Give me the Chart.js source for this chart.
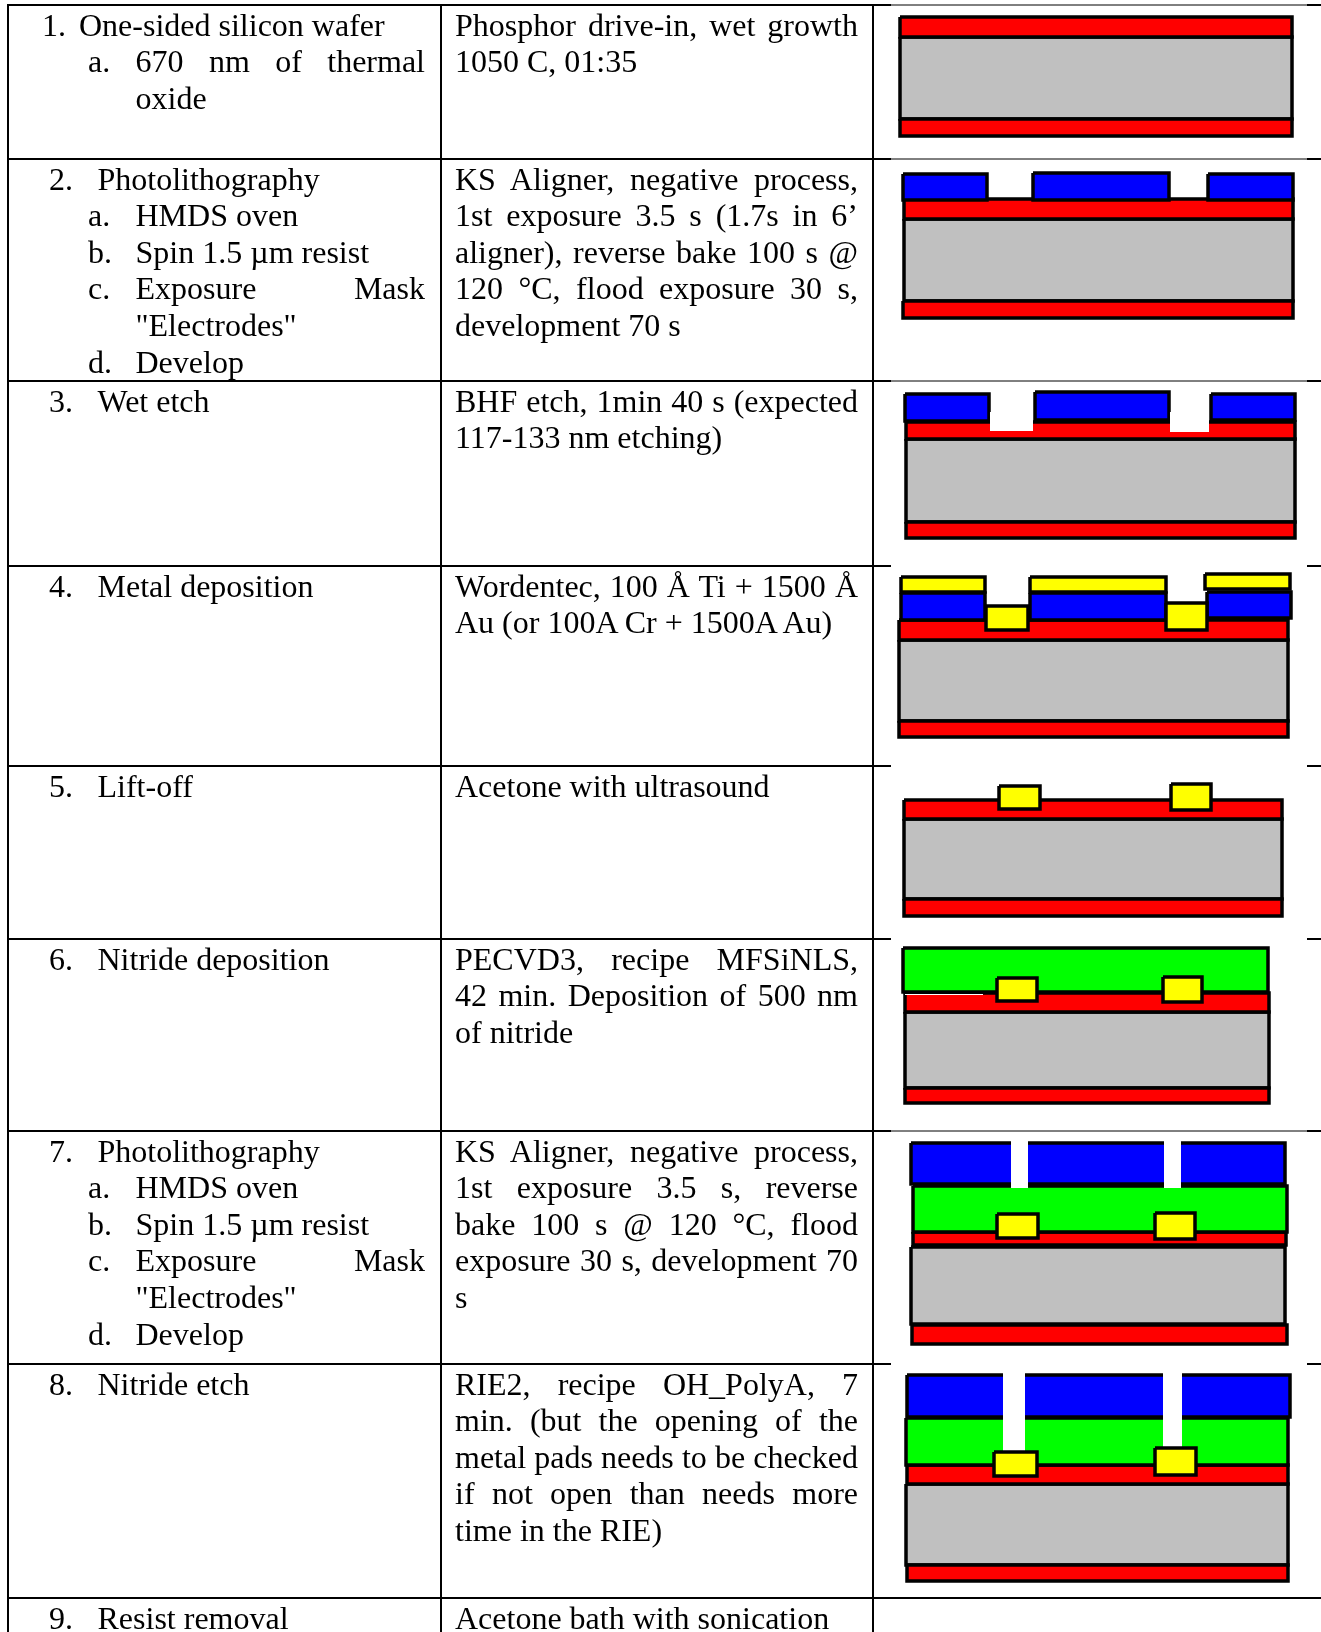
<!DOCTYPE html>
<html>
<head>
<meta charset="utf-8">
<title>Process flow</title>
<script src="https://cdn.jsdelivr.net/npm/chart.js@4"></script>
<style>
    html, body { margin: 0; padding: 0; background: #fff; }
    #page { position: relative; width: 1321px; height: 1632px; overflow: hidden; }
    #flow { position: absolute; left: 0; top: 0; }
    .line {
        position: absolute;
        height: 36px;
        line-height: 36px;
        font-family: "Liberation Serif", serif;
        font-size: 32px;
        color: #000;
        white-space: normal;
    }
    .just { text-align: justify; text-align-last: justify; }
</style>
</head>
<body>
<div id="page">
    <canvas id="flow" width="1321" height="1632"></canvas>
</div>
<script>
// =============================================
// DATA
// =============================================

const stepTitles = [
    'One-sided silicon wafer', 'Photolithography', 'Wet etch', 'Metal deposition', 'Lift-off',
    'Nitride deposition', 'Photolithography', 'Nitride etch', 'Resist removal'
];

const stepDetails = [
    [['a.', '670 nm of thermal'], ['', 'oxide']],
    [['a.', 'HMDS oven'], ['b.', 'Spin 1.5 µm resist'], ['c.', 'Exposure Mask'], ['', '"Electrodes"'], ['d.', 'Develop']],
    [], [], [], [],
    [['a.', 'HMDS oven'], ['b.', 'Spin 1.5 µm resist'], ['c.', 'Exposure Mask'], ['', '"Electrodes"'], ['d.', 'Develop']],
    [], []
];

const justifiedDetails = ['670 nm of thermal', 'Exposure Mask'];

const recipeLines = [
    ['Phosphor drive-in, wet growth', '1050 C, 01:35'],
    ['KS Aligner, negative process,', '1st exposure 3.5 s (1.7s in 6’', 'aligner), reverse bake 100 s @', '120 °C, flood exposure 30 s,', 'development 70 s'],
    ['BHF etch, 1min 40 s (expected', '117-133 nm etching)'],
    ['Wordentec, 100 Å Ti + 1500 Å', 'Au (or 100A Cr + 1500A Au)'],
    ['Acetone with ultrasound'],
    ['PECVD3, recipe MFSiNLS,', '42 min. Deposition of 500 nm', 'of nitride'],
    ['KS Aligner, negative process,', '1st exposure 3.5 s, reverse', 'bake 100 s @ 120 °C, flood', 'exposure 30 s, development 70', 's'],
    ['RIE2, recipe OH_PolyA, 7', 'min. (but the opening of the', 'metal pads needs to be checked', 'if not open than needs more', 'time in the RIE)'],
    ['Acetone bath with sonication']
];

// table rules
const rowRules = [5, 159, 381, 566, 766, 939, 1131, 1364, 1598];
const columnRules = [8, 441, 873];
const thinRowRules = [5, 159, 381, 1131];

// layers as [left, right, top, bottom]
const siliconLayers = [
    [900, 1292, 37, 119], [904, 1293, 219, 301], [906, 1295, 439, 522], [899, 1288, 640, 721],
    [904, 1282, 819, 899], [905, 1269, 1012, 1088], [911, 1285, 1247, 1324], [906, 1288, 1484, 1565]
];
const oxideLayers = [
    [900, 1292, 17, 37], [900, 1292, 119, 136],
    [904, 1293, 199, 219], [903, 1293, 301, 318],
    [906, 1295, 422, 439], [906, 1295, 522, 538],
    [899, 1288, 620, 640], [899, 1288, 721, 737],
    [904, 1282, 800, 819], [904, 1282, 899, 916],
    [905, 1269, 993, 1012], [905, 1269, 1088, 1103],
    [913, 1286, 1232, 1245], [912, 1287, 1325, 1344],
    [907, 1288, 1465, 1484], [907, 1288, 1565, 1581]
];
const nitrideLayers = [
    [903, 1268, 948, 992], [913, 1287, 1186, 1232], [906, 1288, 1418, 1465]
];
const resistLayers = [
    [903, 987, 174, 200], [1033, 1169, 173, 200], [1208, 1293, 174, 200],
    [905, 989, 394, 421], [1035, 1169, 392, 420], [1211, 1295, 394, 420],
    [901, 985, 593, 620], [1030, 1166, 593, 620], [1207, 1291, 592, 618],
    [911, 1285, 1143, 1184], [907, 1290, 1375, 1417]
];
const openingLayers = [
    [990, 1033, 412, 431], [1170, 1209, 412, 432],
    [905, 983, 994, 995],
    [1011, 1028, 1137, 1188], [1164, 1181, 1137, 1188],
    [1003, 1025, 1368, 1452], [1163, 1182, 1368, 1447]
];
const metalLayers = [
    [901, 985, 577, 592], [1030, 1166, 577, 592], [1205, 1290, 574, 589],
    [986, 1028, 606, 630], [1166, 1207, 603, 630],
    [999, 1040, 786, 809], [1171, 1211, 784, 810],
    [997, 1037, 978, 1001], [1163, 1202, 977, 1002],
    [997, 1038, 1214, 1238], [1155, 1195, 1213, 1239],
    [994, 1037, 1452, 1476], [1155, 1196, 1448, 1475]
];

// =============================================
// CHART
// =============================================

const pageWidth = 1321;
const pageHeight = 1632;

function rectDataset(layer, fillColor, strokeColor, strokeWidth) {
    const [left, right, top, bottom] = layer;
    return {
        data: [
            { x: left, y: top }, { x: right, y: top }, { x: right, y: bottom },
            { x: left, y: bottom }, { x: left, y: top }
        ],
        showLine: true,
        fill: 'shape',
        backgroundColor: fillColor,
        borderColor: strokeColor,
        borderWidth: strokeWidth,
        borderJoinStyle: 'miter',
        pointRadius: 0,
        tension: 0
    };
}

function ruleDataset(x1, y1, x2, y2, width) {
    return {
        data: [{ x: x1, y: y1 }, { x: x2, y: y2 }],
        showLine: true,
        fill: false,
        borderColor: '#000',
        borderWidth: width,
        pointRadius: 0
    };
}

const datasets = [];

siliconLayers.forEach(l => datasets.push(rectDataset(l, '#c0c0c0', '#000', 3.5)));
oxideLayers.forEach(l => datasets.push(rectDataset(l, '#ff0000', '#000', 3.5)));
nitrideLayers.forEach(l => datasets.push(rectDataset(l, '#00ff00', '#000', 3.5)));
resistLayers.forEach(l => datasets.push(rectDataset(l, '#0000ff', '#000', 3.5)));
openingLayers.forEach(l => datasets.push(rectDataset(l, '#fff', '#fff', 0)));
metalLayers.forEach(l => datasets.push(rectDataset(l, '#ffff00', '#000', 3.5)));

// Table rules
rowRules.forEach(y => {
    const full = y === rowRules[rowRules.length - 1];
    datasets.push(ruleDataset(columnRules[0] - 1, y, full ? pageWidth : 891, y, 2));
    if (!full) datasets.push(ruleDataset(1307, y, pageWidth, y, 2));
    if (thinRowRules.includes(y)) datasets.push(ruleDataset(891, y, 1307, y, 1));
});
columnRules.forEach(x => datasets.push(ruleDataset(x, rowRules[0], x, pageHeight, 2)));

// the library draws low order on top, so later layers get a lower order
datasets.forEach((d, i) => { d.order = -i; });

new Chart(document.getElementById('flow').getContext('2d'), {
    type: 'scatter',
    data: { datasets: datasets },
    options: {
        responsive: false,
        animation: false,
        events: [],
        layout: { padding: 0 },
        plugins: { legend: { display: false }, tooltip: { enabled: false } },
        scales: {
            x: { type: 'linear', min: 0, max: pageWidth, display: false },
            y: { type: 'linear', min: 0, max: pageHeight, reverse: true, display: false }
        }
    }
});

// =============================================
// TEXT CELLS
// =============================================

const page = document.getElementById('page');
const lineStep = 36.6;
const baselineDrop = 30;
const baselineInBox = 28.5;

function addLine(text, left, right, baseline, justified) {
    const el = document.createElement('div');
    el.className = justified ? 'line just' : 'line';
    el.style.left = left + 'px';
    el.style.top = (baseline - baselineInBox) + 'px';
    if (right) el.style.width = (right - left) + 'px';
    else el.style.whiteSpace = 'nowrap';
    el.textContent = text;
    page.appendChild(el);
}

stepTitles.forEach((title, i) => {
    const first = rowRules[i] + baselineDrop;
    addLine((i + 1) + '.', i === 0 ? 42 : 49, null, first, false);
    addLine(title, i === 0 ? 79 : 97.5, null, first, false);
    stepDetails[i].forEach((item, k) => {
        const baseline = first + (k + 1) * lineStep;
        if (item[0]) addLine(item[0], 88, null, baseline, false);
        const justified = justifiedDetails.includes(item[1]);
        addLine(item[1], 135.5, justified ? 425 : null, baseline, justified);
    });
    recipeLines[i].forEach((text, k) => {
        const justified = k < recipeLines[i].length - 1;
        addLine(text, 455, justified ? 858 : null, first + k * lineStep, justified);
    });
});
</script>
</body>
</html>
